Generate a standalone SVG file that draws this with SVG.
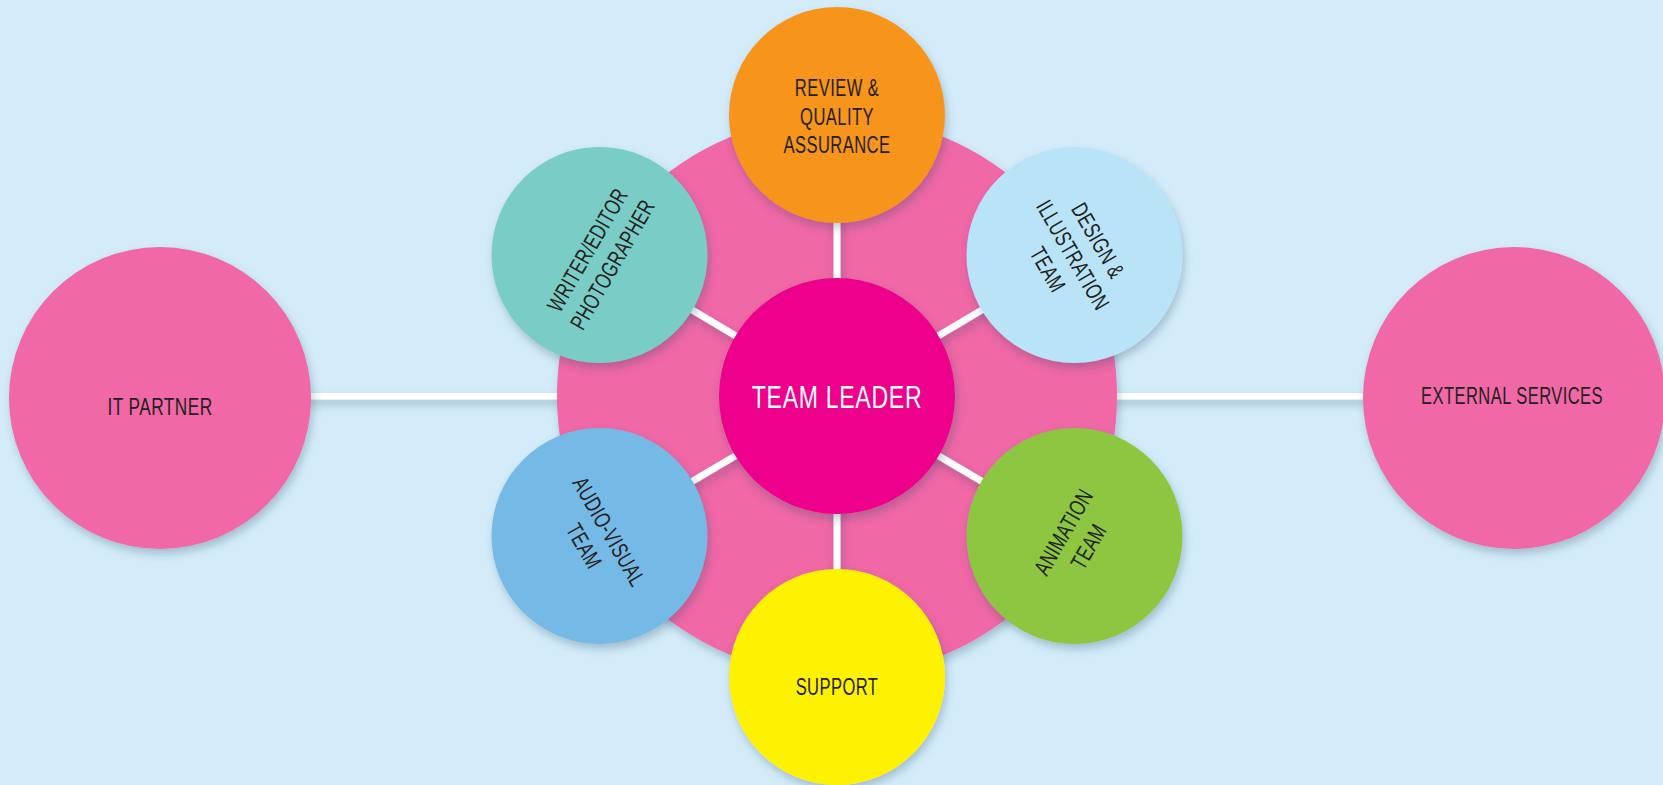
<svg xmlns="http://www.w3.org/2000/svg" width="1663" height="785" viewBox="0 0 1663 785">
<defs>
<filter id="sh" filterUnits="userSpaceOnUse" x="0" y="0" width="1663" height="785">
<feDropShadow dx="2" dy="5" stdDeviation="4" flood-color="#1f4060" flood-opacity="0.28"/>
</filter>
<style>
.lbl{font-family:"Liberation Sans",Arial,sans-serif;font-size:23px;fill:#231f20;text-anchor:middle;letter-spacing:0.6px}
.tl{font-family:"Liberation Sans",Arial,sans-serif;font-size:32px;fill:#ffffff;text-anchor:middle;letter-spacing:1px}
.wire{stroke:#ffffff;stroke-width:7;fill:none}
</style>
</defs>
<rect width="1663" height="785" fill="#d4ecf9"/>
<g id="connectors">
<g filter="url(#sh)">
<rect x="300" y="393" width="270" height="6.5" fill="#ffffff"/>
<rect x="1100" y="393" width="270" height="6.5" fill="#ffffff"/>
</g>
</g>
<g id="hub-ring">
<circle cx="837" cy="396" r="280" fill="#f067a6" filter="url(#sh)"/>
</g>
<g id="spokes" filter="url(#sh)">
<line class="wire" x1="837" y1="396" x2="837" y2="115"/>
<line class="wire" x1="837" y1="396" x2="837" y2="677"/>
<line class="wire" x1="837" y1="396" x2="599.5" y2="255"/>
<line class="wire" x1="837" y1="396" x2="1074.5" y2="255"/>
<line class="wire" x1="837" y1="396" x2="599.5" y2="536"/>
<line class="wire" x1="837" y1="396" x2="1074.5" y2="536"/>
</g>
<g id="team-leader">
<circle cx="837" cy="396" r="118" fill="#ec008c" filter="url(#sh)"/>
<g transform="translate(837,408) scale(0.72,1)"><text class="tl" x="0" y="0">TEAM LEADER</text></g>
</g>
<g id="review">
<circle cx="837" cy="115" r="108" fill="#f7941d" filter="url(#sh)"/>
<g transform="translate(837,115) scale(0.72,1)">
<text class="lbl" x="0" y="-19">REVIEW &amp;</text>
<text class="lbl" x="0" y="10">QUALITY</text>
<text class="lbl" x="0" y="38">ASSURANCE</text>
</g>
</g>
<g id="writer">
<circle cx="599.5" cy="255" r="108" fill="#7acdc7" filter="url(#sh)"/>
<g transform="translate(599.5,257) rotate(-60) scale(0.72,1)">
<text class="lbl" x="0" y="-6">WRITER/EDITOR</text>
<text class="lbl" x="0" y="23">PHOTOGRAPHER</text>
</g>
</g>
<g id="design">
<circle cx="1074.5" cy="255" r="108" fill="#b9e4f8" filter="url(#sh)"/>
<g transform="translate(1073,255) rotate(60) scale(0.72,1)">
<text class="lbl" x="0" y="-21">DESIGN &amp;</text>
<text class="lbl" x="0" y="8">ILLUSTRATION</text>
<text class="lbl" x="0" y="37">TEAM</text>
</g>
</g>
<g id="audio-visual">
<circle cx="599.5" cy="536" r="108" fill="#74b9e7" filter="url(#sh)"/>
<g transform="translate(597,538.5) rotate(60) scale(0.72,1)">
<text class="lbl" x="0" y="-6">AUDIO-VISUAL</text>
<text class="lbl" x="0" y="23">TEAM</text>
</g>
</g>
<g id="animation">
<circle cx="1074.5" cy="536" r="108" fill="#8dc63f" filter="url(#sh)"/>
<g transform="translate(1075.5,539) rotate(-60) scale(0.72,1)">
<text class="lbl" x="0" y="-6">ANIMATION</text>
<text class="lbl" x="0" y="23">TEAM</text>
</g>
</g>
<g id="support">
<circle cx="837" cy="677" r="108" fill="#fff200" filter="url(#sh)"/>
<g transform="translate(837,695) scale(0.72,1)"><text class="lbl" x="0" y="0">SUPPORT</text></g>
</g>
<g id="it-partner">
<circle cx="160" cy="398" r="151" fill="#f067a6" filter="url(#sh)"/>
<g transform="translate(160,415) scale(0.72,1)"><text class="lbl" x="0" y="0" style="font-size:24px">IT PARTNER</text></g>
</g>
<g id="external-services">
<circle cx="1514" cy="398" r="151" fill="#f067a6" filter="url(#sh)"/>
<g transform="translate(1512,404) scale(0.72,1)"><text class="lbl" x="0" y="0">EXTERNAL SERVICES</text></g>
</g>
</svg>
